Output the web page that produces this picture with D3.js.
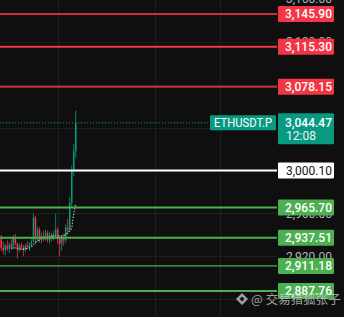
<!DOCTYPE html>
<html><head><meta charset="utf-8">
<script src="https://cdn.jsdelivr.net/npm/d3@7"></script>
<style>html,body{margin:0;padding:0;background:#0f0f0f;overflow:hidden}svg{display:block}</style>
</head><body>
<script>
// ---- data ----
const opens  = [2936,2928,2926,2930,2927,2931,2929,2938,2932,2927,2930,2928,2926,2930,2929,2931,2934,2956,2936,2945,2936,2939,2936,2942,2935,2940,2937,2941,2945,2937,2932,2937,2935,2947,2945,2970,3000,3018];
const highs  = [2940,2934,2932,2935,2933,2936,2940,2941,2933,2932,2933,2931,2932,2934,2933,2936,2960,2958,2948,2947,2942,2944,2945,2944,2943,2942,2944,2960,2947,2939,2940,2941,2950,2955,2975,3005,3025,3056];
const lows   = [2925,2922,2921,2925,2923,2926,2927,2930,2918,2924,2926,2920,2924,2927,2925,2929,2933,2932,2934,2933,2932,2934,2935,2933,2932,2934,2935,2938,2932,2920,2925,2930,2933,2940,2943,2965,2995,3012];
const closes = [2928,2926,2930,2927,2931,2929,2938,2932,2927,2930,2928,2926,2930,2929,2931,2934,2956,2936,2945,2936,2939,2936,2942,2935,2940,2937,2941,2945,2937,2932,2937,2935,2947,2945,2970,3000,3018,3044.47];
const maValues = [null,null,null,null,null,2928,2927.5,2928,2927,2927,2926.5,2926.5,2927,2927.5,2928,2929,2931,2933,2934.5,2935.5,2936.5,2937,2937.5,2938,2938,2938.5,2939,2939.5,2939.5,2939,2939,2939.5,2940.5,2942,2944,2946,2960,2969];
const levelPrices = [3145.90, 3115.30, 3078.15, 3000.10, 2965.70, 2937.51, 2911.18, 2887.76];
const levelKinds  = ["red","redB","red","white","green","green","greenT","green"];
const tickPrices  = [3160, 3120, 3080, 3040, 3000, 2960, 2920, 2880];
const tickLabelsShown = [3160, 3120, 2960, 2920];
const lastPrice = 3044.47;
const symbol = "ETHUSDT.P";
const countdown = "12:08";
const watermark = "@ 交易猎狐张子";

// ---- chart ----
const W = 344, H = 317, plotR = 277, axisL = 278, axisR = 334;
const svg = d3.select("body").append("svg").attr("width", W).attr("height", H)
  .style("font-family", "Roboto, 'Noto Sans', sans-serif");
svg.append("rect").attr("width", W).attr("height", H).attr("fill", "#0f0f0f");

const y = d3.scaleLinear().domain([2863.55, 3158.95]).range([H, 0]);
const x = d3.scaleBand().domain(d3.range(opens.length)).range([0, 77]).padding(0.25);
const fmt = d3.format(",.2f");

// grid
const grid = svg.append("g").attr("stroke", "#1f1f1f").attr("stroke-width", 1);
[58, 155, 220].forEach(v => grid.append("line").attr("x1", v + 0.5).attr("x2", v + 0.5).attr("y1", 0).attr("y2", H));
tickPrices.forEach(p => grid.append("line").attr("x1", 0).attr("x2", plotR)
  .attr("y1", Math.round(y(p)) + 0.5).attr("y2", Math.round(y(p)) + 0.5));

// tick labels (those not hidden behind level boxes)
svg.append("g").selectAll("text").data(tickLabelsShown).join("text")
  .attr("x", 332).attr("y", d => y(d)).attr("dy", "0.35em").attr("text-anchor", "end")
  .attr("fill", "#b2b5be").attr("font-size", 12).text(d => fmt(d));

// candles
const up = "#089981", dn = "#f23645";
const cg = svg.append("g");
opens.forEach((o, i) => {
  const c = closes[i], col = c >= o ? up : dn;
  const cx = x(i) + x.bandwidth() / 2;
  cg.append("line").attr("x1", cx).attr("x2", cx).attr("y1", y(highs[i])).attr("y2", y(lows[i]))
    .attr("stroke", col).attr("stroke-width", 0.8);
  const t = y(Math.max(o, c)), b = y(Math.min(o, c));
  cg.append("rect").attr("x", x(i)).attr("width", x.bandwidth()).attr("y", t)
    .attr("height", Math.max(1, b - t)).attr("fill", col);
});

// moving average (dotted)
const maPts = maValues.map((v, i) => [i, v]).filter(d => d[1] !== null);
svg.append("path").datum(maPts)
  .attr("d", d3.line().x(d => x(d[0]) + x.bandwidth() / 2).y(d => y(d[1])))
  .attr("fill", "none").attr("stroke", "#d8d8d8").attr("stroke-width", 1.2)
  .attr("stroke-dasharray", "1.5,1.5").attr("opacity", 0.8);

// level lines & boxes
const styles = {
  red:   {line: "#c9303e", w: 2, box: "#f23645", txt: "#ffffff"},
  redB:  {line: "#f23645", w: 2, box: "#f23645", txt: "#ffffff"},
  white: {line: "#ffffff", w: 2, box: "#ffffff", txt: "#131313"},
  green: {line: "#4caf50", w: 2, box: "#4caf50", txt: "#ffffff"},
  greenT:{line: "#4caf50", w: 1.3, box: "#4caf50", txt: "#ffffff"}
};
levelPrices.forEach((p, i) => {
  const s = styles[levelKinds[i]], yy = y(p);
  svg.append("line").attr("x1", 0).attr("x2", plotR).attr("y1", yy).attr("y2", yy)
    .attr("stroke", s.line).attr("stroke-width", s.w);
  svg.append("rect").attr("x", axisL).attr("y", yy - 8).attr("width", axisR - axisL).attr("height", 16)
    .attr("fill", s.box).attr("rx", 1);
  svg.append("text").attr("x", 332).attr("y", yy).attr("dy", "0.36em").attr("text-anchor", "end")
    .attr("fill", s.txt).attr("font-size", 12).attr("font-weight", levelKinds[i] === "white" ? 400 : 500)
    .text(fmt(p));
});

// last price line + labels
const ly = y(lastPrice);
svg.append("line").attr("x1", 0).attr("x2", 210).attr("y1", ly).attr("y2", ly)
  .attr("stroke", up).attr("stroke-width", 1).attr("stroke-dasharray", "1,2");
svg.append("rect").attr("x", 210).attr("y", ly - 7.5).attr("width", 66).attr("height", 15).attr("fill", up).attr("rx", 1);
svg.append("text").attr("x", 243).attr("y", ly).attr("dy", "0.36em").attr("text-anchor", "middle")
  .attr("fill", "#ffffff").attr("font-size", 12).attr("textLength", 58).attr("lengthAdjust", "spacingAndGlyphs").text(symbol);
svg.append("rect").attr("x", axisL).attr("y", ly - 9.5).attr("width", axisR - axisL).attr("height", 31).attr("fill", up).attr("rx", 1);
svg.append("text").attr("x", 332).attr("y", ly).attr("dy", "0.36em").attr("text-anchor", "end")
  .attr("fill", "#ffffff").attr("font-size", 12).attr("font-weight", 500).text(fmt(lastPrice));
svg.append("text").attr("x", 286).attr("y", ly + 13).attr("dy", "0.36em").attr("text-anchor", "start")
  .attr("fill", "#e8f5f1").attr("font-size", 12).text(countdown);

// watermark
const wm = svg.append("g").attr("opacity", 0.75);
wm.append("path").attr("transform", `translate(242,299)`)
  .attr("d", "M0,-6 L6,0 L0,6 L-6,0 Z M0,-2.5 L2.5,0 L0,2.5 L-2.5,0 Z")
  .attr("fill", "#d0d0d0").attr("fill-rule", "evenodd");
wm.append("text").attr("x", 251).attr("y", 299).attr("dy", "0.36em")
  .attr("fill", "#d0d0d0").attr("font-size", 12.5)
  .style("font-family", "'Noto Sans CJK SC', sans-serif").text(watermark);
</script>
</body></html>
